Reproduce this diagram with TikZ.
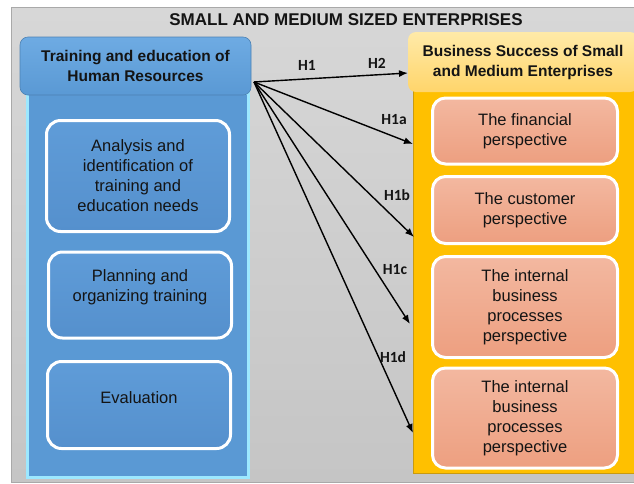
\documentclass[tikz,border=0pt]{standalone}
\usepackage{fontspec}
\setmainfont{Liberation Sans}
\newfontfamily\carlito{Carlito}
\usetikzlibrary{arrows.meta}
\definecolor{bgtop}{HTML}{D7D7D7}
\definecolor{bgbot}{HTML}{C5C5C5}
\definecolor{bgline}{HTML}{A9A9A9}
\definecolor{blutop}{HTML}{6EABE3}
\definecolor{blubot}{HTML}{5A99D4}
\definecolor{bluin}{HTML}{5F9CD8}
\definecolor{bluindk}{HTML}{5590CD}
\definecolor{cyanrim}{HTML}{9DE8FF}
\definecolor{gold}{HTML}{FFC000}
\definecolor{goldrim}{HTML}{C99A10}
\definecolor{yeltop}{HTML}{FFEAA8}
\definecolor{yelbot}{HTML}{FFD56B}
\definecolor{peachtop}{HTML}{F3B8A0}
\definecolor{peachbot}{HTML}{ED9F80}
\definecolor{ink}{HTML}{141414}
\begin{document}
\begin{tikzpicture}[x=1pt, y=-1pt,
    blubox/.style={draw=white, line width=3, rounded corners=14, top color=bluin, bottom color=bluindk, minimum width=183},
    peachbox/.style={draw=white, line width=3, rounded corners=13, top color=peachtop, bottom color=peachbot, minimum width=185},
    boxtxt/.style={align=center, text=ink, font=\fontsize{16.5}{20}\selectfont},
    headtxt/.style={align=center, text=ink, font=\fontsize{15.5}{20}\selectfont\bfseries},
    hyp/.style={text=ink, font=\carlito\fontsize{15.5}{18}\selectfont\bfseries},
    arr/.style={-{Latex[length=9pt,width=7pt]}, line width=1.4}]
        \useasboundingbox (0,0) rectangle (634,483);
        % Sfondo
        \draw[bgline, line width=0.8, top color=bgtop, bottom color=bgbot] (11,7) rectangle (634,482);
        \node[text=ink, font=\fontsize{17}{20}\selectfont\bfseries] (TIT) at (346,20) {SMALL AND MEDIUM SIZED ENTERPRISES};
        
        % Colonna sinistra
        \node[draw=cyanrim, line width=3, fill=blubot, minimum width=221, minimum height=384] (TC) at (137.5,285) {};
        \node[draw=blubot!85!black, line width=0.6, rounded corners=8, top color=blutop, bottom color=blubot,
              minimum width=231, minimum height=58, headtxt] (TH) at (135.5,66) {Training and education of\\Human Resources};
        \node[blubox, minimum height=111, boxtxt] (AN) at (138,176) {Analysis and\\identification of\\training and\\education needs};
        \node[blubox, minimum height=86] (PL) at (140,295) {};
        \node[boxtxt] (PLT) at (140,287) {Planning and\\organizing training};
        \node[blubox, minimum height=87] (EV) at (139,405) {};
        \node[boxtxt] (EVT) at (139,398) {Evaluation};
        
        % Colonna destra
        \node[draw=goldrim, line width=1, fill=gold, minimum width=227, minimum height=385] (BC) at (526.5,280.5) {};
        \node[rounded corners=8, top color=yeltop, bottom color=yelbot, minimum width=230, minimum height=60,
              headtxt] (BH) at (523,62) {Business Success of Small\\and Medium Enterprises};
        \node[peachbox, minimum height=66, boxtxt] (FP) at (525,131) {The financial\\perspective};
        \node[peachbox, minimum height=67, boxtxt] (CP) at (525,210) {The customer\\perspective};
        \node[peachbox, minimum height=101, boxtxt] (IP1) at (525,307) {The internal\\business\\processes\\perspective};
        \node[peachbox, minimum height=100, boxtxt] (IP2) at (525,418) {The internal\\business\\processes\\perspective};
        
        % Collegamenti
        \coordinate (S) at (254,82);
        \coordinate (T2) at (408,73);
        \coordinate (Ta) at (413,144);
        \coordinate (Tb) at (414,237);
        \coordinate (Tc) at (410,324);
        \coordinate (Td) at (413,433);
        \draw[arr] (S) -- (T2);
        \draw[arr] (S) -- (Ta);
        \draw[arr] (S) -- (Tb);
        \draw[arr] (S) -- (Tc);
        \draw[arr] (S) -- (Td);
        \node[hyp] (H1) at (307,65) {H1};
        \node[hyp] (H2) at (377,63) {H2};
        \node[hyp] (H1a) at (394,120) {H1a};
        \node[hyp] (H1b) at (397,195) {H1b};
        \node[hyp] (H1c) at (395,270) {H1c};
        \node[hyp] (H1d) at (393,357) {H1d};
    \end{tikzpicture}
\end{document}
